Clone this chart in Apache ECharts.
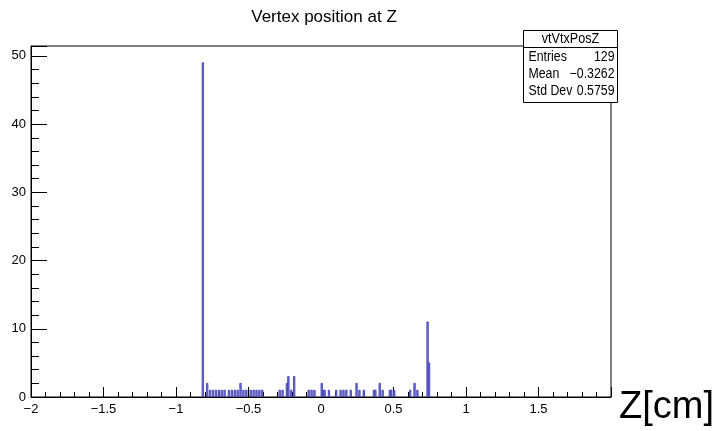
<!DOCTYPE html>
<html>
<head>
<meta charset="utf-8">
<script src="https://cdn.jsdelivr.net/npm/echarts@6/dist/echarts.min.js"></script>
<style>
  html, body { margin: 0; padding: 0; background: #fff; }
  #main { width: 719px; height: 431px; }
</style>
</head>
<body>
<div id="main"></div>
<script>
// histogram vtVtxPosZ, 400 bins in [-2, 2] -> width 0.01
var binWidth = 0.01;
var binLow = [
    -0.82,
    -0.79, -0.77, -0.75, -0.73, -0.71, -0.69, -0.67, -0.64, -0.62, -0.60,
    -0.58, -0.56, -0.54, -0.52, -0.49, -0.47, -0.45, -0.43, -0.41,
    -0.29, -0.27, -0.24, -0.23, -0.21, -0.19,
    -0.09, -0.07, -0.05, 0.00, 0.01, 0.02, 0.05,
    0.10, 0.13, 0.15, 0.17, 0.20, 0.24, 0.26, 0.29,
    0.36, 0.37, 0.40, 0.42, 0.47, 0.48, 0.50,
    0.61, 0.64, 0.66, 0.73, 0.74
];
var binCount = [
    49,
    2, 1, 1, 1, 1, 1, 1, 1, 1, 1,
    1, 2, 1, 1, 1, 1, 1, 1, 1,
    1, 1, 2, 3, 1, 3,
    1, 1, 1, 2, 1, 1, 1,
    1, 1, 1, 1, 1, 2, 1, 1,
    1, 1, 2, 1, 1, 1, 1,
    1, 2, 1, 11, 5
];
var statsNames = ['Entries', 'Mean', 'Std Dev'];
var statsValues = ['129', '\u22120.3262', '0.5759'];

var chart = echarts.init(document.getElementById('main'));

var histData = [];
for (var i = 0; i < binLow.length; i++) {
    histData.push([binLow[i], binCount[i]]);
}

function rootNum(v) {
    if (v === 0) return '0';
    return String(v).replace('-', '\u2212');
}

var font = 'Liberation Sans, Arial, Helvetica, sans-serif';
var statFont = '14px ' + font;

// stats box rows: label on the left, value on the right
var statsRows = [];
for (var r = 0; r < statsNames.length; r++) {
    statsRows.push({ type: 'text', x: 5, y: 27 + r * 17, scaleX: 0.88,
        style: { text: statsNames[r], verticalAlign: 'middle', font: statFont, fill: '#000' } });
    statsRows.push({ type: 'text', x: 91, y: 27 + r * 17, scaleX: 0.88,
        style: { text: statsValues[r], align: 'right', verticalAlign: 'middle', font: statFont, fill: '#000' } });
}

option = {
    animation: false,
    backgroundColor: '#fff',
    title: {
        text: 'Vertex position at Z',
        left: 319,
        top: 4,
        textAlign: 'center',
        textStyle: { fontFamily: font, fontSize: 17, fontWeight: 'normal', color: '#000' }
    },
    grid: {
        left: 31, right: 108, top: 46, bottom: 34,
        show: true, borderColor: '#000', borderWidth: 1,
        containLabel: false
    },
    xAxis: {
        type: 'value',
        min: -2, max: 2, interval: 0.5,
        axisLine: { onZero: false, lineStyle: { color: '#000' } },
        axisTick: { inside: true, length: 10, lineStyle: { color: '#000' } },
        minorTick: { show: true, splitNumber: 5, length: 5, lineStyle: { color: '#000' } },
        splitLine: { show: false },
        axisLabel: {
            color: '#000', fontFamily: font, fontSize: 13, margin: 6,
            showMaxLabel: false,
            formatter: function (v) { return rootNum(v); }
        }
    },
    yAxis: {
        type: 'value',
        min: 0, max: 51.45, interval: 10,
        axisLine: { show: true, onZero: false, lineStyle: { color: '#000' } },
        axisTick: { show: true, inside: true, length: 16, lineStyle: { color: '#000' } },
        minorTick: { show: true, splitNumber: 5, length: 8, lineStyle: { color: '#000' } },
        splitLine: { show: false },
        axisLabel: {
            color: '#000', fontFamily: font, fontSize: 13, margin: 5,
            formatter: function (v) { return v % 10 === 0 ? String(v) : ''; }
        }
    },
    series: [{
        type: 'custom',
        clip: true,
        data: histData,
        renderItem: function (params, api) {
            var lo = api.value(0);
            var p0 = api.coord([lo, api.value(1)]);
            var p1 = api.coord([lo + binWidth, 0]);
            return {
                type: 'rect',
                shape: { x: p0[0], y: p0[1], width: p1[0] - p0[0], height: p1[1] - p0[1] },
                style: { fill: '#7b7bd6', stroke: '#3a3ab0', lineWidth: 0.8 }
            };
        }
    }],
    graphic: [
        {
            type: 'group',
            left: 521, top: 30,
            children: [
                { type: 'rect', shape: { x: 0, y: 0, width: 94, height: 72 },
                  style: { fill: '#fff', stroke: '#000', lineWidth: 1 } },
                { type: 'line', shape: { x1: 0, y1: 17, x2: 94, y2: 17 },
                  style: { stroke: '#000', lineWidth: 1 } },
                { type: 'text', x: 47, y: 9, scaleX: 0.9,
                  style: { text: 'vtVtxPosZ', align: 'center', verticalAlign: 'middle', font: statFont, fill: '#000' } }
            ].concat(statsRows)
        },
        {
            type: 'text',
            left: 619, top: 389,
            style: { text: 'Z[cm]', font: '38px ' + font, fill: '#000' }
        }
    ]
};
chart.setOption(option);
</script>
</body>
</html>
